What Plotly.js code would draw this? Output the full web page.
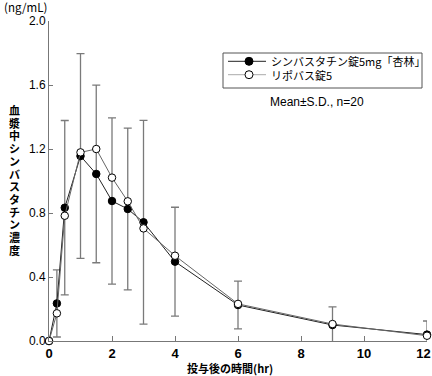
<!DOCTYPE html>
<html>
<head>
<meta charset="utf-8">
<script src="https://cdn.plot.ly/plotly-3.0.1.min.js"></script>
<style>html,body{margin:0;padding:0;background:#fff;}#chart{width:432px;height:376px;}</style>
</head>
<body>
<div id="chart"></div>
<script>
// Data
const timeHr = [0, 0.25, 0.5, 1, 1.5, 2, 2.5, 3, 4, 6, 9, 12];
const seriesNames = ["シンバスタチン錠5mg「杏林」", "リポバス錠5"];
const kyorinMean = [0, 0.235, 0.833, 1.156, 1.044, 0.875, 0.825, 0.742, 0.496, 0.225, 0.10, 0.04];
const kyorinSD   = [0, 0.21, 0.545, 0.64, 0.555, 0.52, 0.505, 0.637, 0.34, 0.149, 0.113, 0.085];
const lipovasMean = [0, 0.173, 0.783, 1.179, 1.20, 1.021, 0.873, 0.704, 0.533, 0.232, 0.106, 0.033];
const xTicks = [0, 2, 4, 6, 8, 10, 12];
const yTicks = [0.0, 0.4, 0.8, 1.2, 1.6, 2.0];
const yTitle = "血漿中シンバスタチン濃度";
const xTitle = "投与後の時間(hr)";
const unitLabel = "(ng/mL)";
const noteLabel = "Mean±S.D., n=20";

const CJK = '"Noto Sans CJK JP", "Noto Sans", sans-serif';
const LAT = '"Liberation Sans", Arial, sans-serif';

const seriesStyle = [
  {line: '#222', legendLine: '#222', fill: '#000'},
  {line: '#666', legendLine: '#aaa', fill: '#fff'}
];

const traces = [
  { // error bars (clipped to plot area)
    x: timeHr, y: kyorinMean, type: 'scatter', mode: 'markers',
    marker: {size: 1, opacity: 0}, showlegend: false, hoverinfo: 'skip',
    cliponaxis: true,
    error_y: {type: 'data', array: kyorinSD, visible: true, color: '#7a7a7a', thickness: 1.3, width: 4}
  },
  {
    x: timeHr, y: kyorinMean, type: 'scatter', mode: 'lines+markers', name: seriesNames[0],
    line: {color: seriesStyle[0].line, width: 1},
    marker: {symbol: 'circle', size: 7.5, color: seriesStyle[0].fill, line: {color: '#000', width: 1}},
    cliponaxis: false, showlegend: false
  },
  {
    x: timeHr, y: lipovasMean, type: 'scatter', mode: 'lines+markers', name: seriesNames[1],
    line: {color: seriesStyle[1].line, width: 1},
    marker: {symbol: 'circle', size: 7.5, color: seriesStyle[1].fill, line: {color: '#000', width: 1}},
    cliponaxis: false, showlegend: false
  }
];

const px = v => (v - 49) / 378;   // pixel -> paper x
const py = v => (341 - v) / 320;  // pixel -> paper y

// vertical stacked y-axis title: one character per line, tight line spacing
const stacked = Array.from(yTitle).map(c => '<span style="font-size:11px">' + c + '</span>').join('<br>');

const annotations = [
  {text: unitLabel, xref: 'paper', yref: 'paper', x: px(2), y: py(7.5), xanchor: 'left', yanchor: 'middle',
   showarrow: false, font: {family: CJK, size: 11.5, color: '#000'}},
  {text: noteLabel, xref: 'paper', yref: 'paper', x: px(317), y: py(101.5), xanchor: 'center', yanchor: 'middle',
   showarrow: false, font: {family: LAT, size: 12, color: '#000'}},
  {text: xTitle, xref: 'paper', yref: 'paper', x: px(230), y: py(368), xanchor: 'center', yanchor: 'middle',
   showarrow: false, font: {family: CJK, size: 11, color: '#000', weight: 'bold'}},
  {text: stacked, xref: 'paper', yref: 'paper', x: px(14), y: py(180), xanchor: 'center', yanchor: 'middle',
   align: 'center', showarrow: false, font: {family: CJK, size: 9.77, color: '#000', weight: 'bold'}}
];

// legend box drawn as layout decorations
const legendRows = [61.3, 74.7];
const shapes = [
  {type: 'rect', xref: 'paper', yref: 'paper', x0: px(223), x1: px(422), y0: py(53), y1: py(88),
   line: {color: '#555', width: 1}, fillcolor: 'rgba(0,0,0,0)'}
];
seriesNames.forEach((name, i) => {
  const ry = py(legendRows[i]);
  shapes.push({type: 'line', xref: 'paper', yref: 'paper', x0: px(228), x1: px(266), y0: ry, y1: ry,
    line: {color: seriesStyle[i].legendLine, width: 1}});
  shapes.push({type: 'circle', xref: 'paper', yref: 'paper', xsizemode: 'pixel', ysizemode: 'pixel',
    xanchor: px(249), yanchor: ry, x0: -4, x1: 4, y0: -4, y1: 4,
    fillcolor: seriesStyle[i].fill, line: {color: '#000', width: 1}});
  annotations.push({text: name, xref: 'paper', yref: 'paper', x: px(268.5), y: ry, xanchor: 'left', yanchor: 'middle',
    showarrow: false, font: {family: CJK, size: 11, color: '#000'}});
});

// last x label nudged left so it stays inside the picture, as in the reference
const xTickText = xTicks.map((v, i) => i === xTicks.length - 1 ? String(v) + '\u00A0\u00A0' : String(v));

const layout = {
  width: 432, height: 376,
  margin: {l: 49, r: 5, t: 21, b: 35},
  paper_bgcolor: '#fff', plot_bgcolor: '#fff',
  showlegend: false,
  xaxis: {range: [0, 12], tickvals: xTicks, ticktext: xTickText, ticks: 'inside', ticklen: 5,
    tickcolor: '#777', showline: true, linecolor: '#777', linewidth: 1, showgrid: false, zeroline: false,
    tickfont: {family: LAT, size: 13, color: '#000', weight: 'bold'}, fixedrange: true, automargin: false,
    ticklabeloverflow: 'allow'},
  yaxis: {range: [0, 2], tickvals: yTicks, ticktext: yTicks.map(v => v.toFixed(1)), ticks: 'inside', ticklen: 4,
    tickcolor: '#777', showline: true, linecolor: '#777', linewidth: 1, showgrid: false, zeroline: false,
    tickfont: {family: LAT, size: 12, color: '#000'}, fixedrange: true, automargin: false,
    ticklabeloverflow: 'allow'},
  shapes: shapes,
  annotations: annotations
};

Plotly.newPlot('chart', traces, layout, {displayModeBar: false, staticPlot: true});
</script>
</body>
</html>
